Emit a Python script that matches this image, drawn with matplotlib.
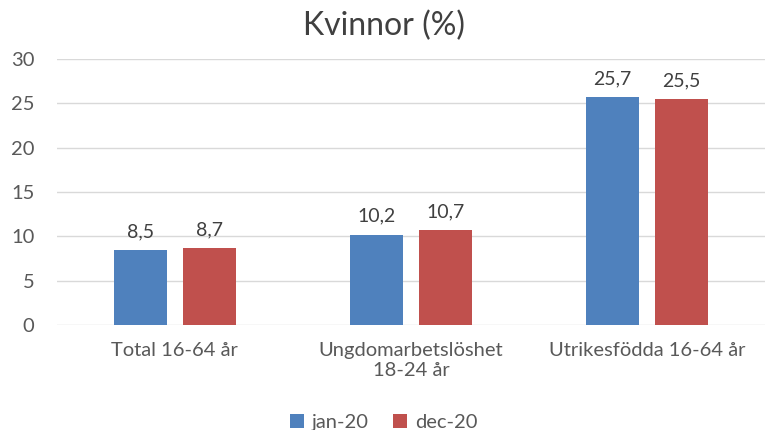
import matplotlib.pyplot as plt
import numpy as np

categories = ["Total 16-64 år", "Ungdomarbetslöshet\n18-24 år", "Utrikesfödda 16-64 år"]
jan20 = [8.5, 10.2, 25.7]
dec20 = [8.7, 10.7, 25.5]
series_names = ["jan-20", "dec-20"]

plt.rcParams['font.family'] = ['Lato', 'DejaVu Sans']

fig = plt.figure(figsize=(7.68, 4.30), dpi=100)
ax = fig.add_axes([0.074, 0.244, 0.922, 0.619])

x = np.arange(len(categories))
w = 0.225
off = 0.146
b1 = ax.bar(x - off, jan20, w, color='#4F81BD', label=series_names[0], zorder=3)
b2 = ax.bar(x + off, dec20, w, color='#C0504D', label=series_names[1], zorder=3)

for bars in (b1, b2):
    for r in bars:
        ax.text(r.get_x() + r.get_width() / 2, r.get_height() + 1.1,
                f"{r.get_height():.1f}".replace('.', ','),
                ha='center', va='bottom', fontsize=14, color='#404040')

ax.set_xlim(-0.5, 2.5)
ax.set_ylim(0, 30)
ax.set_yticks(range(0, 31, 5))
ax.set_xticks(x)
ax.set_xticklabels(categories, linespacing=1.25)
ax.tick_params(axis='both', length=0, labelsize=14.5, colors='#595959')
ax.tick_params(axis='y', pad=16)
ax.tick_params(axis='x', pad=12)
ax.grid(axis='y', color='#D9D9D9', linewidth=1, zorder=0)
for s in ax.spines.values():
    s.set_visible(False)

fig.suptitle("Kvinnor (%)", y=0.975, fontsize=23, color='#404040')
fig.legend(handles=[b1, b2], loc='lower center', ncol=2, frameon=False,
           bbox_to_anchor=(0.5, -0.045), fontsize=14.5, handlelength=0.7,
           handleheight=0.7, columnspacing=1.2, handletextpad=0.4,
           labelcolor='#595959')

fig.savefig("out.png", dpi=100)
